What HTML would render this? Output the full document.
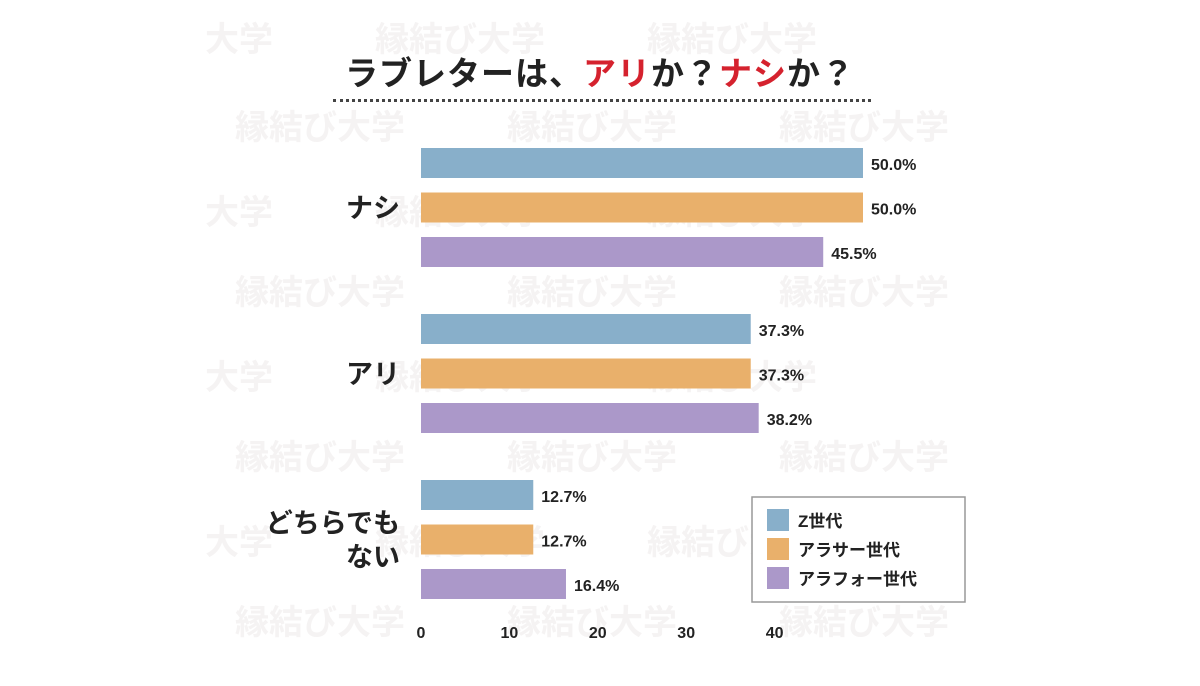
<!DOCTYPE html>
<html><head><meta charset="utf-8">
<style>
body{margin:0;width:1200px;height:686px;background:#fff;overflow:hidden;font-family:"Liberation Sans","Noto Sans CJK JP",sans-serif;}
.wm{position:absolute;color:#f5f3f3;font-weight:bold;font-size:34px;white-space:nowrap;}
</style></head><body>
<div style="position:absolute;left:205px;top:0;width:780px;height:686px;overflow:hidden;">
<div class="wm" style="left:0;top:12px">大学　　　縁結び大学　　　縁結び大学</div>
<div class="wm" style="left:30px;top:100px">縁結び大学　　　縁結び大学　　　縁結び大学</div>
<div class="wm" style="left:0;top:185px">大学　　　縁結び大学　　　縁結び大学</div>
<div class="wm" style="left:30px;top:265px">縁結び大学　　　縁結び大学　　　縁結び大学</div>
<div class="wm" style="left:0;top:350px">大学　　　縁結び大学　　　縁結び大学</div>
<div class="wm" style="left:30px;top:430px">縁結び大学　　　縁結び大学　　　縁結び大学</div>
<div class="wm" style="left:0;top:515px">大学　　　縁結び大学　　　縁結び大学</div>
<div class="wm" style="left:30px;top:595px">縁結び大学　　　縁結び大学　　　縁結び大学</div>
</div>
<div style="position:absolute;left:0;width:1200px;top:47px;text-align:center;font-size:33px;font-weight:bold;color:#222;letter-spacing:1px;">ラブレターは、<span style="color:#d5222e">アリ</span>か？<span style="color:#d5222e">ナシ</span>か？</div>
<div style="position:absolute;left:333px;top:99px;width:538px;border-top:3px dotted #444;"></div>
<svg id="chart" width="1200" height="686" style="position:absolute;left:0;top:0"></svg>
<script>
const categories=["ナシ","アリ","どちらでも\nない"];
const seriesNames=["Z世代","アラサー世代","アラフォー世代"];
const seriesZ=[50.0,37.3,12.7];
const seriesAround30=[50.0,37.3,12.7];
const seriesAround40=[45.5,38.2,16.4];
const ticks=[0,10,20,30,40];
const colors=["#88afca","#e9b06b","#ab98c9"];
const series=[seriesZ,seriesAround30,seriesAround40];
const NS="http://www.w3.org/2000/svg";
const svg=document.getElementById('chart');
const x=v=>421+v*8.84;
const barY=(c,s)=>148+c*166+s*44.5;
function mk(t,a){const e=document.createElementNS(NS,t);for(const k in a)e.setAttribute(k,a[k]);svg.appendChild(e);return e;}
categories.forEach((cat,c)=>{
  const lines=cat.split("\n");
  lines.forEach((ln,i)=>{
    const t=mk('text',{x:400,y:barY(c,1)+25+(i-(lines.length-1)/2)*34,'text-anchor':'end','font-size':'27','font-weight':'bold',fill:'#222'});
    
    
    t.textContent=ln;
  });
  series.forEach((sv,s)=>{
    const r=mk('rect',{x:x(0),y:barY(c,s),width:x(sv[c])-x(0),height:30,fill:colors[s]});
    
    
    const t=mk('text',{x:x(sv[c])+8,y:barY(c,s)+22,'font-size':'16','font-weight':'bold',fill:'#222'});
    
    
    t.textContent=sv[c].toFixed(1)+"%";
  });
});
ticks.forEach(v=>{
  const t=mk('text',{x:x(v),y:638,'text-anchor':'middle','font-size':'16','font-weight':'bold',fill:'#222'});
  
  
  t.textContent=v;
});
const lg=mk('rect',{x:752,y:497,width:213,height:105,fill:'#fff',stroke:'#999','stroke-width':1.5});


seriesNames.forEach((n,i)=>{
  const r=mk('rect',{x:767,y:509+i*29,width:22,height:22,fill:colors[i]});
  
  
  const t=mk('text',{x:798,y:527+i*29,'font-size':'17','font-weight':'bold',fill:'#222'});
  
  
  t.textContent=n;
});
</script>
</body></html>
